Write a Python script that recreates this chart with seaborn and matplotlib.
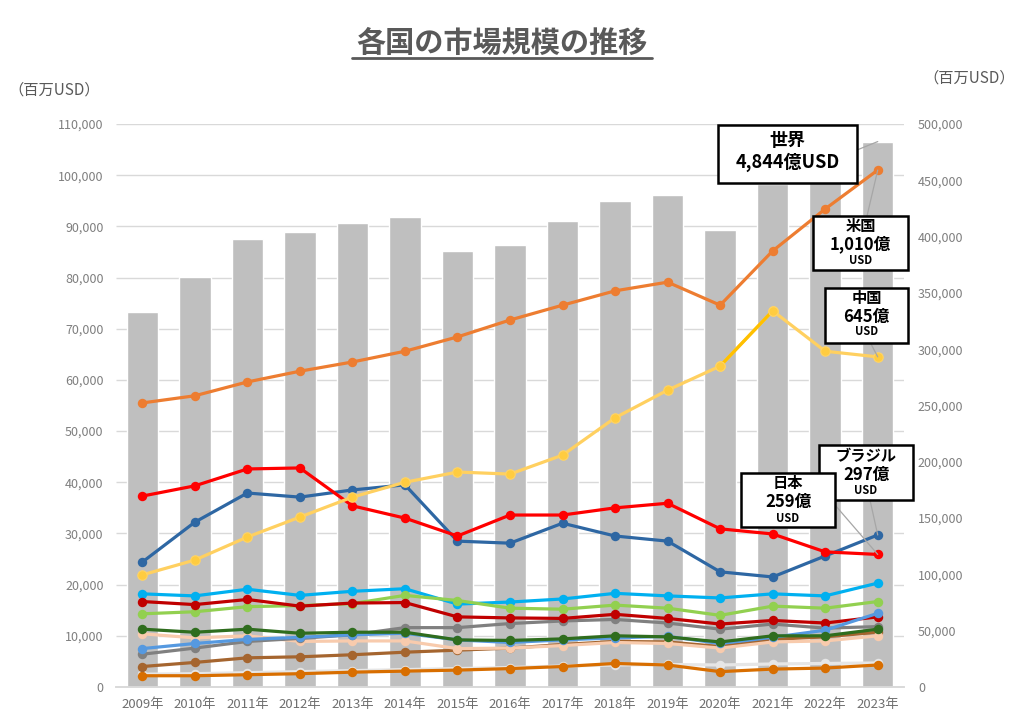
import numpy as np
import matplotlib
matplotlib.use("Agg")
import matplotlib.pyplot as plt
from matplotlib.patches import Rectangle
from matplotlib.lines import Line2D
from matplotlib.ticker import FuncFormatter
import seaborn as sns

# ---------------- data ----------------
years = list(range(2009, 2024))
year_labels = [f"{y}年" for y in years]

world = [333000, 364000, 397900, 404100, 412100, 417400, 387200, 392500,
         413900, 431600, 437000, 405900, 446700, 463000, 484400]

usa = [55500, 56900, 59600, 61700, 63500, 65600, 68400, 71700,
       74600, 77400, 79100, 74600, 85200, 93400, 101000]
china = [21900, 24800, 29300, 33200, 37100, 40000, 42000, 41600,
         45300, 52600, 58000, 62700, 73500, 65600, 64500]
japan = [37300, 39300, 42600, 42800, 35400, 33000, 29500, 33600,
         33600, 35000, 35900, 30900, 29900, 26400, 25900]
brazil = [24400, 32200, 37900, 37100, 38500, 39500, 28500, 28100,
          32000, 29500, 28500, 22500, 21500, 25600, 29700]
cyan_s = [18200, 17800, 19100, 17900, 18700, 19200, 16200, 16600,
          17200, 18300, 17800, 17400, 18200, 17800, 20300]
green_s = [14300, 14700, 15700, 15900, 16300, 17900, 16900, 15400,
           15200, 16000, 15400, 14000, 15800, 15400, 16700]
darkred_s = [16700, 16100, 17100, 15800, 16400, 16500, 13700, 13500,
             13400, 14200, 13400, 12300, 13000, 12500, 13700]
darkgreen_s = [11300, 10700, 11300, 10500, 10700, 10700, 9200, 9100,
               9400, 10000, 9800, 8800, 10000, 10000, 11300]
gray_s = [6400, 7600, 8900, 9500, 10200, 11600, 11600, 12400,
          12900, 13200, 12500, 11300, 12300, 11500, 11800]
lightblue_s = [7500, 8500, 9300, 9700, 10200, 10500, 9200, 8700,
               9200, 9600, 9900, 8500, 9700, 11100, 14400]
peach_s = [10400, 9600, 10000, 8900, 9000, 9000, 7500, 7600,
           8100, 8700, 8500, 7600, 8800, 9000, 10000]
brown_s = [4000, 4800, 5700, 5900, 6300, 6800, 7200, 7600,
           8300, 8900, 8800, 7900, 9300, 9800, 10700]
darkorange_s = [2200, 2200, 2400, 2600, 2900, 3100, 3300, 3600,
                4000, 4600, 4300, 3000, 3500, 3700, 4300]
faint_s = [2500, 2600, 2800, 3000, 3200, 3400, 3600, 3800,
           4100, 4300, 4400, 4300, 4500, 4600, 4700]

left_ticks = list(range(0, 110001, 10000))
right_ticks = list(range(0, 500001, 50000))

# ---------------- style ----------------
sns.set_style("white")
plt.rcParams["font.family"] = ["Noto Sans CJK JP", "DejaVu Sans"]

W, H = 1024, 726
fig = plt.figure(figsize=(W / 100, H / 100), dpi=100)
fig.patch.set_facecolor("white")


def fx(x):
    return x / W


def fy(y):
    return 1 - y / H


ax_l, ax_r, ax_t, ax_b = 116, 904, 124, 687
ax = fig.add_axes([fx(ax_l), fy(ax_b), (ax_r - ax_l) / W, (ax_b - ax_t) / H])
ax2 = ax.twinx()

# bars (world) on right axis
sns.barplot(x=year_labels, y=world, ax=ax2, color="#BFBFBF",
            saturation=1, width=0.6, zorder=2)
ax2.set_ylim(0, 500000)
ax2.set_yticks(right_ticks)

# grid following left ticks, drawn under bars
ax2.hlines(left_ticks[1:], -0.5, 14.5, transform=ax.transData,
           colors="#D9D9D9", linewidth=1.0, zorder=0)

ax.set_zorder(ax2.get_zorder() + 1)
ax.patch.set_visible(False)

idx = np.arange(len(years))
lw = 2.3
ms = 6.8

series = [
    (faint_s, "#E6E6E6"),
    (darkorange_s, "#D86E00"),
    (brown_s, "#A5652F"),
    (peach_s, "#F8CBAD"),
    (cyan_s, "#00B0F0"),
    (green_s, "#92D050"),
    (gray_s, "#808080"),
    (darkred_s, "#C00000"),
    (lightblue_s, "#5599E0"),
    (darkgreen_s, "#2F6D1E"),
    (brazil, "#2E67A3"),
    (japan, "#FF0000"),
]
for vals, col in series:
    sns.lineplot(x=idx, y=vals, ax=ax, color=col, linewidth=lw,
                 marker="o", markersize=ms, markeredgewidth=0)

# China: pale line with a bright segment 2020-2021
sns.lineplot(x=idx, y=china, ax=ax, color="#FFD060", linewidth=lw,
             marker="o", markersize=ms, markerfacecolor="#FFCC40",
             markeredgewidth=0.8, markeredgecolor="#FFD466")
seg = slice(11, 13)
sns.lineplot(x=idx[seg], y=china[seg], ax=ax, color="#FFC000", linewidth=lw)
sns.lineplot(x=idx[11:13], y=china[11:13], ax=ax, color="#FFCC40",
             marker="o", markersize=ms, markeredgewidth=0.8, markeredgecolor="#FFD466",
             linewidth=0)

# USA
sns.lineplot(x=idx, y=usa, ax=ax, color="#ED7D31", linewidth=lw,
             marker="o", markersize=ms, markeredgewidth=0)

ax.set_xlim(-0.5, 14.5)
ax.set_ylim(0, 110000)
ax.set_yticks(left_ticks)
ax.set_xticks(idx)
ax.set_xticklabels(year_labels)

fmt = FuncFormatter(lambda v, p: f"{int(v):,}")
ax.yaxis.set_major_formatter(fmt)
ax2.yaxis.set_major_formatter(fmt)

for a in (ax, ax2):
    a.set_xlabel("")
    a.set_ylabel("")
    a.grid(False)
    for s in ("left", "right", "top"):
        a.spines[s].set_visible(False)
    a.spines["bottom"].set_color("#D9D9D9")
    a.spines["bottom"].set_linewidth(1.2)

ax.tick_params(axis="y", length=0, labelsize=9, labelcolor="#7F7F7F", pad=9)
ax2.tick_params(axis="y", length=0, labelsize=9, labelcolor="#7F7F7F", pad=10)
ax.tick_params(axis="x", length=0, labelsize=9.5, labelcolor="#6F6F6F", pad=8)
ax2.tick_params(axis="x", length=0)

# ---------------- titles ----------------
fig.text(fx(502), fy(43), "各国の市場規模の推移", ha="center", va="center",
         fontsize=21, fontweight="bold", color="#595959")
fig.add_artist(Line2D([fx(352), fx(652)], [fy(58), fy(58)],
                      color="#595959", linewidth=2, transform=fig.transFigure))
fig.text(fx(8), fy(90), "（百万USD）", ha="left", va="center",
         fontsize=11, color="#595959")
fig.text(fx(1015), fy(78), "（百万USD）", ha="right", va="center",
         fontsize=11, color="#595959")

# ---------------- leader lines ----------------
lead = dict(arrowstyle="-", color="#A6A6A6", lw=0.9, shrinkA=0, shrinkB=0)
ax2.annotate("", xy=(14, world[-1]), xycoords="data",
             xytext=(857, H - 150), textcoords="figure pixels", arrowprops=lead)
ax.annotate("", xy=(14, usa[-1]), xycoords="data",
            xytext=(867, H - 216), textcoords="figure pixels", arrowprops=lead)
ax.annotate("", xy=(14, china[-1]), xycoords="data",
            xytext=(870, H - 342), textcoords="figure pixels", arrowprops=lead)
ax.annotate("", xy=(14, brazil[-1]), xycoords="data",
            xytext=(870, H - 500), textcoords="figure pixels", arrowprops=lead)
ax.annotate("", xy=(14, japan[-1]), xycoords="data",
            xytext=(835, H - 505), textcoords="figure pixels", arrowprops=lead)


# ---------------- callout boxes ----------------
def box(x0, y0, x1, y1, lines):
    fig.add_artist(Rectangle((fx(x0), fy(y1)), (x1 - x0) / W, (y1 - y0) / H,
                             transform=fig.transFigure, facecolor="white",
                             edgecolor="black", linewidth=1.8, zorder=10))
    cx = (x0 + x1) / 2
    for txt, yy, size in lines:
        fig.text(fx(cx), fy(yy), txt, ha="center", va="center", fontsize=size,
                 fontweight="bold", color="black", zorder=11)


box(718, 125, 857, 183, [("世界", 141, 13), ("4,844億USD", 162, 13)])
box(813, 216, 908, 270, [("米国", 226, 11), ("1,010億", 244, 12), ("USD", 260, 8)])
box(825, 288, 908, 343, [("中国", 298, 11), ("645億", 317, 12), ("USD", 332, 8)])
box(819, 445, 913, 500, [("ブラジル", 456, 11), ("297億", 475, 12), ("USD", 491, 8)])
box(741, 473, 835, 527, [("日本", 483, 11), ("259億", 502, 12), ("USD", 518, 8)])

fig.savefig("out.png", dpi=100)
